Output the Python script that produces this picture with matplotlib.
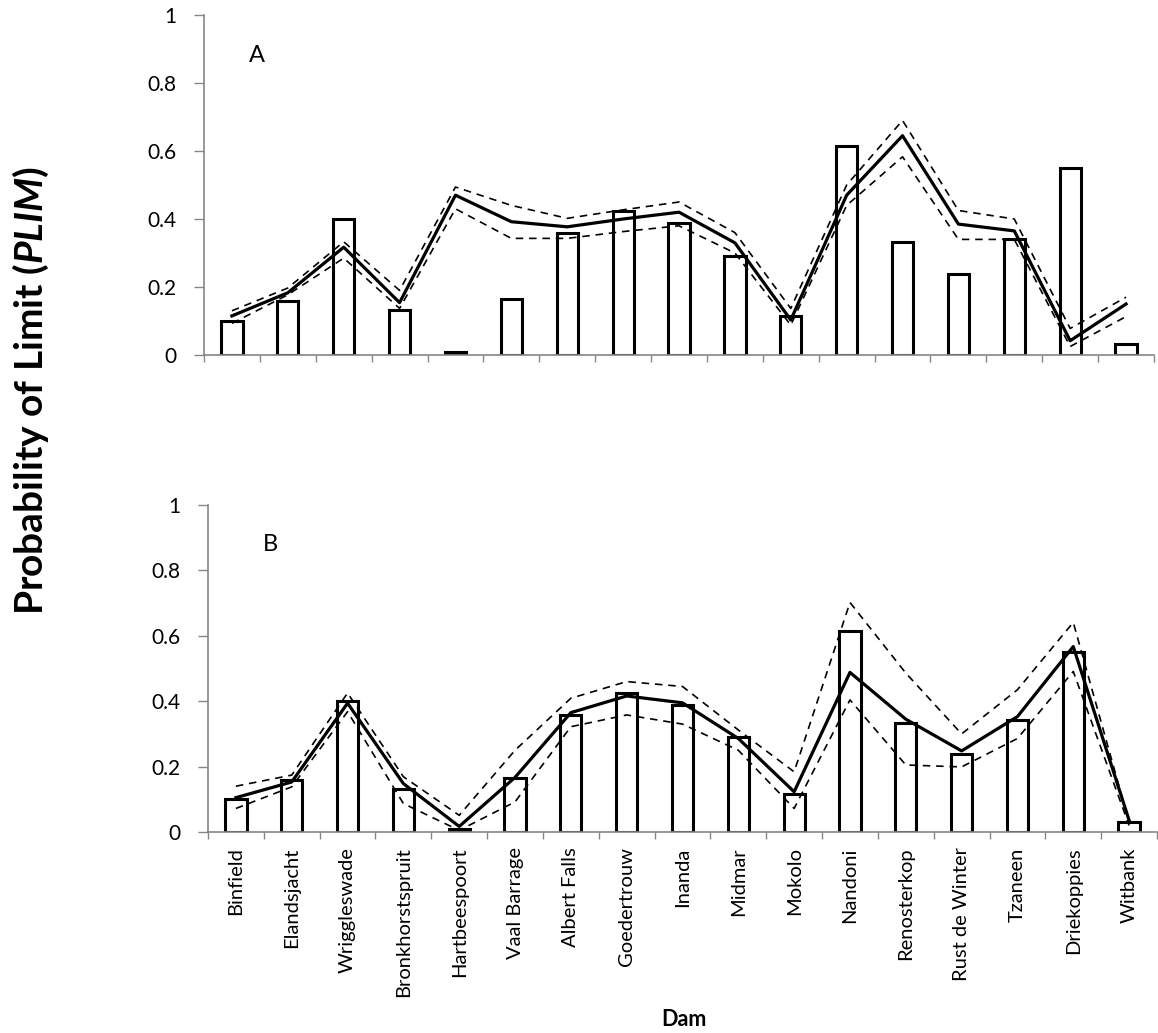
import numpy as np
import matplotlib
matplotlib.use('Agg')
import matplotlib.pyplot as plt

plt.rcParams['font.family'] = ['Lato', 'DejaVu Sans']
plt.rcParams['mathtext.fontset'] = 'custom'
plt.rcParams['mathtext.rm'] = 'Lato'
plt.rcParams['mathtext.bf'] = 'Lato:bold'
plt.rcParams['mathtext.bfit'] = 'Lato:bold:italic'

dams = ['Binfield', 'Elandsjacht', 'Wriggleswade', 'Bronkhorstspruit', 'Hartbeespoort',
        'Vaal Barrage', 'Albert Falls', 'Goedertrouw', 'Inanda', 'Midmar', 'Mokolo',
        'Nandoni', 'Renosterkop', 'Rust de Winter', 'Tzaneen', 'Driekoppies', 'Witbank']

# observed proportion (bars), same in both panels
observed = [0.10, 0.158, 0.40, 0.132, 0.01, 0.166, 0.358, 0.425, 0.388, 0.291, 0.116,
            0.614, 0.332, 0.238, 0.342, 0.551, 0.031]

# panel A: predicted PLIM and bounds
pred_a = [0.115, 0.183, 0.317, 0.154, 0.47, 0.392, 0.377, 0.40, 0.42, 0.33, 0.103,
          0.47, 0.645, 0.385, 0.365, 0.042, 0.15]
upper_a = [0.13, 0.197, 0.333, 0.19, 0.494, 0.44, 0.402, 0.427, 0.45, 0.36, 0.137,
           0.50, 0.69, 0.425, 0.40, 0.078, 0.17]
lower_a = [0.093, 0.177, 0.285, 0.137, 0.43, 0.343, 0.343, 0.363, 0.38, 0.30, 0.088,
           0.44, 0.583, 0.34, 0.34, 0.025, 0.113]

# panel B
pred_b = [0.105, 0.153, 0.394, 0.148, 0.017, 0.167, 0.365, 0.416, 0.395, 0.286, 0.123,
          0.488, 0.345, 0.248, 0.353, 0.567, 0.036]
upper_b = [0.14, 0.174, 0.425, 0.169, 0.051, 0.25, 0.409, 0.46, 0.445, 0.312, 0.184,
           0.702, 0.486, 0.30, 0.435, 0.641, 0.03]
lower_b = [0.072, 0.138, 0.368, 0.087, 0.005, 0.092, 0.322, 0.358, 0.330, 0.25, 0.072,
           0.404, 0.205, 0.199, 0.286, 0.491, 0.02]

W, H = 1158, 1033
fig = plt.figure(figsize=(W / 100, H / 100), dpi=100)
fig.patch.set_facecolor('white')

gray = '#868686'


def draw_panel(ax, pred, upper, lower, letter, letter_x, show_names):
    x = np.arange(len(dams))
    ax.bar(x, observed, width=0.38, facecolor='white', edgecolor='black', linewidth=2.2, zorder=2)
    ax.plot(x, upper, color='black', lw=1.2, ls=(0, (4.5, 3.5)), zorder=3)
    ax.plot(x, lower, color='black', lw=1.2, ls=(0, (4.5, 3.5)), zorder=3)
    ax.plot(x, pred, color='black', lw=2.3, zorder=4)
    ax.set_xlim(-0.5, len(dams) - 0.5)
    ax.set_ylim(0, 1)
    ax.set_yticks([0, 0.2, 0.4, 0.6, 0.8, 1.0])
    ax.set_yticklabels(['0', '0.2', '0.4', '0.6', '0.8', '1'])
    ax.set_xticks(np.arange(-0.5, len(dams), 1.0))
    ax.set_xticklabels([])
    ax.tick_params(axis='x', which='major', direction='out', length=5, width=1, color=gray)
    ax.tick_params(axis='y', which='major', direction='out', length=7, width=1, color=gray,
                   labelsize=15, pad=13)
    if show_names:
        ax.set_xticks(x, minor=True)
        ax.set_xticklabels(dams, minor=True, rotation=90, fontsize=14.5)
        ax.tick_params(axis='x', which='minor', length=0, pad=11)
    for s in ['top', 'right']:
        ax.spines[s].set_visible(False)
    for s in ['left', 'bottom']:
        ax.spines[s].set_color(gray)
        ax.spines[s].set_linewidth(1.2)
    ax.text(letter_x, 0.88, letter, transform=ax.transAxes, fontsize=17, ha='center', va='center')


ax_a = fig.add_axes([204 / W, (H - 355) / H, 950 / W, 340 / H])
draw_panel(ax_a, pred_a, upper_a, lower_a, 'A', (257 - 204) / 950, False)

ax_b = fig.add_axes([208 / W, (H - 832) / H, 949 / W, 327 / H])
draw_panel(ax_b, pred_b, upper_b, lower_b, 'B', (270 - 208) / 949, True)

fig.text(684 / W, (H - 1019) / H, 'Dam', fontsize=15.5, fontweight='bold', ha='center', va='center')
fig.text(31 / W, (H - 390) / H, r'Probability of Limit ($\mathbfit{PLIM}$)', fontsize=28,
         fontweight='bold', rotation=90, ha='center', va='center')

fig.savefig('out.png', dpi=100, facecolor='white')
